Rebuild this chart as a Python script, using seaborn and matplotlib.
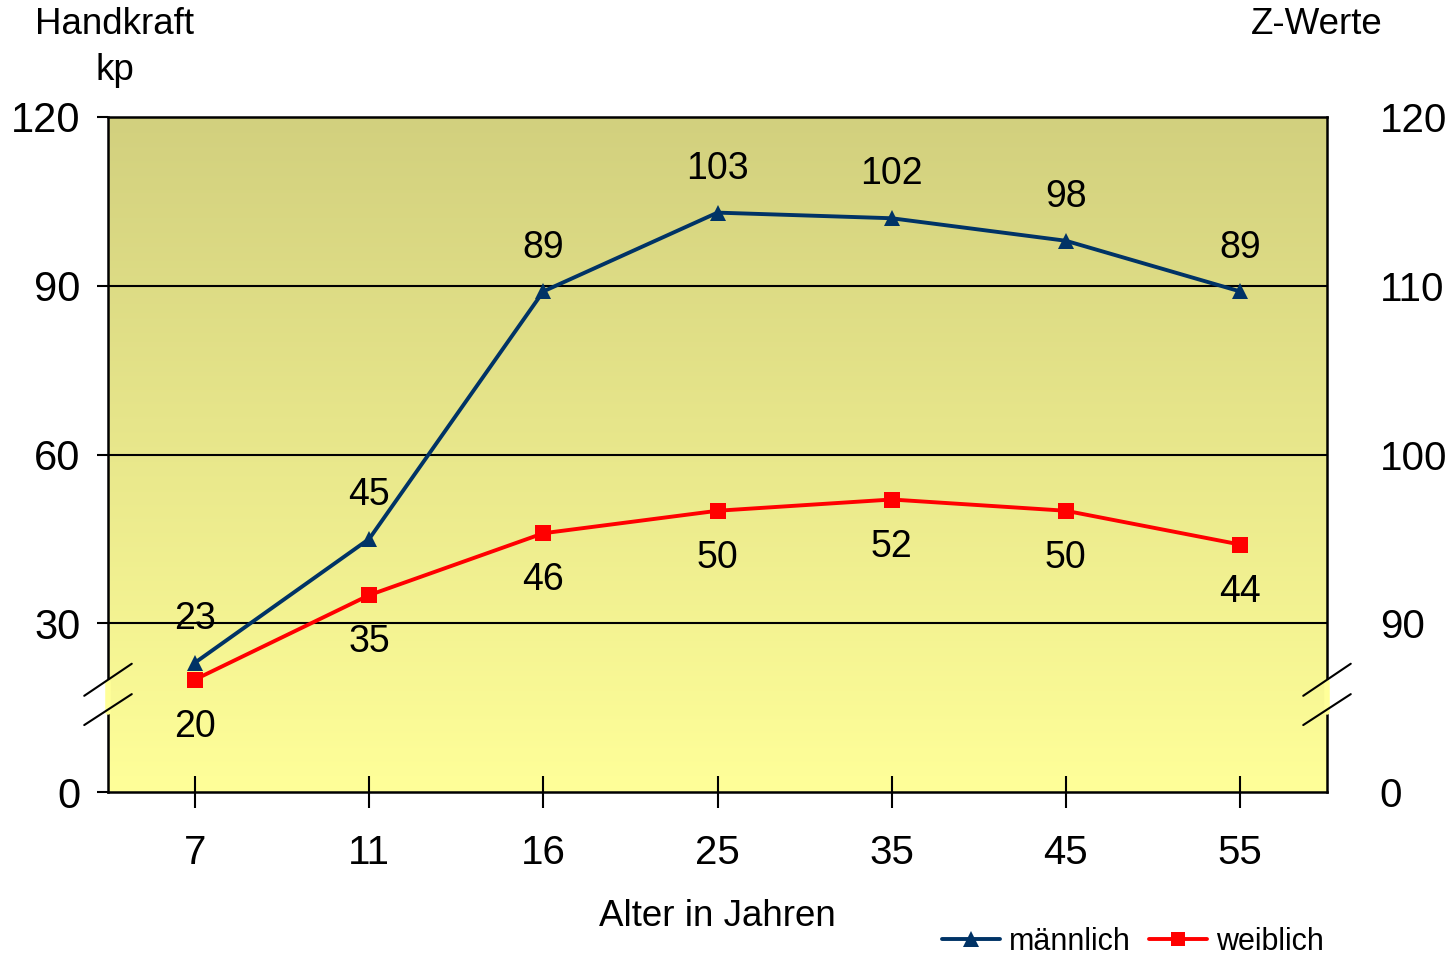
import numpy as np
import pandas as pd
import matplotlib
matplotlib.use("Agg")
import matplotlib.pyplot as plt
import matplotlib.transforms as mtransforms
from matplotlib.lines import Line2D
import seaborn as sns

# Data
ages = ["7", "11", "16", "25", "35", "45", "55"]
maennlich = [23, 45, 89, 103, 102, 98, 89]
weiblich = [20, 35, 46, 50, 52, 50, 44]
left_ticks = [0, 30, 60, 90, 120]
right_tick_labels = ["0", "90", "100", "110", "120"]

sns.set_theme(style="white")
plt.rcParams["font.family"] = ["Liberation Sans", "DejaVu Sans"]
plt.rcParams.update({"text.color": "black", "axes.labelcolor": "black",
                     "xtick.color": "black", "ytick.color": "black"})

df = pd.DataFrame({
    "Alter": ages * 2,
    "Handkraft": maennlich + weiblich,
    "Geschlecht": ["männlich"] * len(ages) + ["weiblich"] * len(ages),
})

navy = "#003366"
red = "#FF0000"

fig = plt.figure(figsize=(14.54, 9.57), dpi=100)
ax = fig.add_axes([108 / 1454, 1 - 792 / 957, 1219 / 1454, 675 / 957])

# Gradient background of the plotting area
top_c = np.array([210, 208, 126]) / 255
bot_c = np.array([255, 255, 153]) / 255
t = np.linspace(0, 1, 256)[:, None]
grad = (top_c[None, :] * (1 - t) + bot_c[None, :] * t)[:, None, :]
ax.imshow(grad, extent=(-0.5, 6.5, 0, 120), aspect="auto", zorder=0,
          interpolation="bilinear")

sns.lineplot(data=df, x="Alter", y="Handkraft", hue="Geschlecht",
             style="Geschlecht", markers={"männlich": "^", "weiblich": "s"},
             dashes=False, palette={"männlich": navy, "weiblich": red},
             linewidth=2.8, markersize=11, markeredgewidth=0,
             legend=False, ax=ax, zorder=3)

ax.set_xlim(-0.5, 6.5)
ax.set_ylim(0, 120)
ax.set_yticks(left_ticks)
ax.set_yticklabels([str(v) for v in left_ticks])
for y in left_ticks[1:-1]:
    ax.axhline(y, color="black", linewidth=1.5, zorder=1)

ax.set_xlabel("Alter in Jahren", fontsize=26.5, labelpad=19)
ax.set_ylabel("")
ax.tick_params(axis="x", direction="inout", length=23, width=1.5,
               labelsize=29, pad=19, bottom=True)
ax.tick_params(axis="y", direction="out", length=8, width=1.5,
               labelsize=30, pad=12, left=True)
for s in ax.spines.values():
    s.set_color("black")
    s.set_linewidth(1.8)

# Right axis (Z-Werte)
ax2 = ax.twinx()
ax2.set_ylim(0, 120)
ax2.set_yticks(left_ticks)
ax2.set_yticklabels(right_tick_labels)
ax2.tick_params(axis="y", length=0, labelsize=29, pad=38)
for s in ax2.spines.values():
    s.set_visible(False)
ax2.grid(False)

# Value labels
for i, v in enumerate(maennlich):
    ax.annotate(str(v), (i, v), xytext=(0, 31.5), textcoords="offset points",
                ha="center", va="center", fontsize=27, zorder=5)
for i, v in enumerate(weiblich):
    ax.annotate(str(v), (i, v), xytext=(0, -34), textcoords="offset points",
                ha="center", va="center", fontsize=27, zorder=5)

# Axis break marks on both vertical axes
trans = mtransforms.blended_transform_factory(ax.transAxes, ax.transData)
for x0 in (0.0, 1.0):
    ax.plot([x0, x0], [14.3, 19.5], color=bot_c, linewidth=4,
            transform=trans, clip_on=False, zorder=6)
    dx = 0.0195
    ax.plot([x0 - dx, x0 + dx], [17.1, 22.8], color="black", linewidth=1.5,
            transform=trans, clip_on=False, zorder=7)
    ax.plot([x0 - dx, x0 + dx], [11.9, 17.4], color="black", linewidth=1.5,
            transform=trans, clip_on=False, zorder=7)

# Axis titles
fig.text(115 / 1454, 1 - 25 / 957, "Handkraft", ha="center", va="center",
         fontsize=26.5)
fig.text(115 / 1454, 1 - 70 / 957, "kp", ha="center", va="center",
         fontsize=26.5)
fig.text(1317 / 1454, 1 - 25 / 957, "Z-Werte", ha="center", va="center",
         fontsize=26.5)

# Legend
handles = [
    Line2D([], [], color=navy, marker="^", linewidth=2.8, markersize=11,
           markeredgewidth=0, label="männlich"),
    Line2D([], [], color=red, marker="s", linewidth=2.8, markersize=10,
           markeredgewidth=0, label="weiblich"),
]
fig.legend(handles=handles, loc="center", bbox_to_anchor=(1133 / 1454, 1 - 942 / 957),
           ncol=2, frameon=False, fontsize=22, handlelength=1.9,
           handletextpad=0.3, columnspacing=0.6, borderaxespad=0,
           borderpad=0)

fig.savefig("out.png", dpi=100)
